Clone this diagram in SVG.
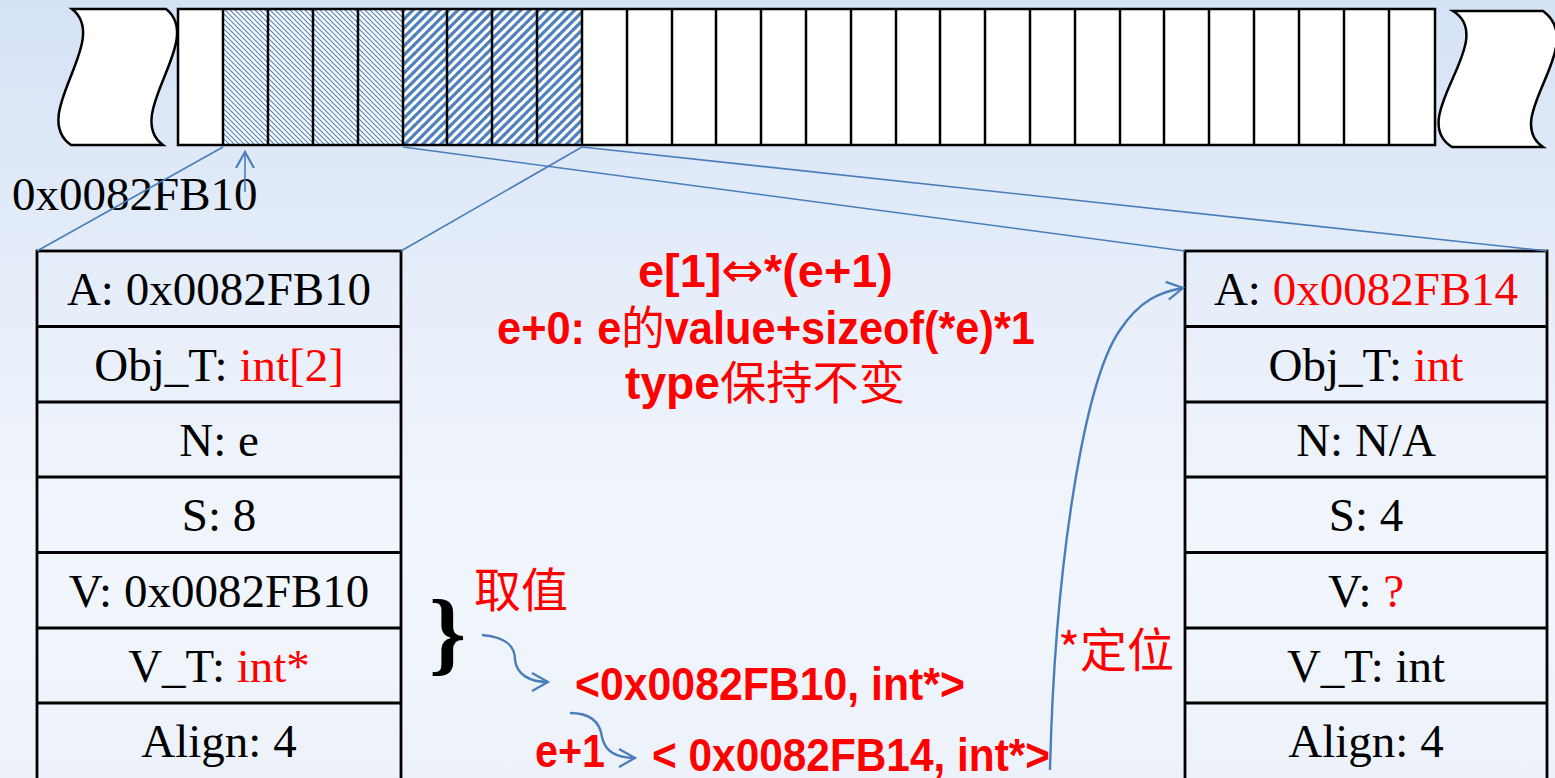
<svg xmlns="http://www.w3.org/2000/svg" width="1555" height="778" viewBox="0 0 1555 778">
<defs>
<linearGradient id="bg" x1="0" y1="0" x2="0" y2="1">
<stop offset="0" stop-color="#d5e2f5"/>
<stop offset="0.35" stop-color="#e5edf9"/>
<stop offset="0.7" stop-color="#f2f6fc"/>
<stop offset="1" stop-color="#edf2fa"/>
</linearGradient>
<pattern id="hatchA" width="5" height="5" patternUnits="userSpaceOnUse">
<rect width="5" height="5" fill="#fff"/>
<path d="M0,0 L5,5 M4,-1 L6,1 M-1,4 L1,6" stroke="#4f81bd" stroke-width="1.1"/>
</pattern>
<pattern id="hatchB" width="9" height="9" patternUnits="userSpaceOnUse">
<rect width="9" height="9" fill="#fff"/>
<path d="M-1,10 L10,-1 M-1,1 L1,-1 M8,10 L10,8" stroke="#4f81bd" stroke-width="3.2"/>
</pattern>
<marker id="chev" markerUnits="userSpaceOnUse" markerWidth="24" markerHeight="24" refX="16" refY="9" orient="auto" overflow="visible">
<path d="M0,0 L16,9 L0,18" fill="none" stroke="#4a7ebb" stroke-width="2.2"/>
</marker>
</defs>
<style>
.cell{stroke:#000;stroke-width:2.5}
.box{fill:none;stroke:#000;stroke-width:2.8}
.div{stroke:#000;stroke-width:2.8}
.tm{font-family:"Liberation Serif","Times New Roman",serif;font-size:47px;fill:#000;text-anchor:middle}
.red{fill:#ff0000}
.bold{font-family:"Liberation Sans",Arial,"Noto Sans CJK SC",sans-serif;font-weight:bold;font-size:46px;fill:#ff0000}
.cjk{font-family:"Noto Sans CJK SC",sans-serif;font-weight:normal}
.arr{font-family:"DejaVu Sans",sans-serif;font-weight:normal;font-size:50px}
.cn{font-family:"Noto Sans CJK SC",sans-serif;font-size:47px;fill:#ff0000}
.conn{fill:none;stroke:#4a7ebb;stroke-width:1.6}
.curve{fill:none;stroke:#4a7ebb;stroke-width:2.4}
.wave{fill:#fff;stroke:#000;stroke-width:2.5}
</style>
<rect width="1555" height="778" fill="url(#bg)"/>

<g id="memory">
<path class="wave" d="M72,9 L166,9 C206,40 122,115 163,145 L71,145 C28,115 112,40 72,9 Z"/>
<path class="wave" d="M1453,11 L1543,11 C1590,45 1500,118 1543,147 L1452,147 C1405,118 1500,40 1453,11 Z"/>
<rect x="178" y="9" width="1257" height="136" fill="#fff"/>
<rect x="223" y="9" width="180" height="136" fill="url(#hatchA)"/>
<rect x="403" y="9" width="179" height="136" fill="url(#hatchB)"/>
<g class="cell">
<line x1="223" y1="9" x2="223" y2="145"/><line x1="268" y1="9" x2="268" y2="145"/><line x1="313" y1="9" x2="313" y2="145"/><line x1="358" y1="9" x2="358" y2="145"/><line x1="403" y1="9" x2="403" y2="145"/><line x1="447" y1="9" x2="447" y2="145"/><line x1="492" y1="9" x2="492" y2="145"/><line x1="537" y1="9" x2="537" y2="145"/><line x1="582" y1="9" x2="582" y2="145"/><line x1="627" y1="9" x2="627" y2="145"/><line x1="672" y1="9" x2="672" y2="145"/><line x1="716" y1="9" x2="716" y2="145"/><line x1="761" y1="9" x2="761" y2="145"/><line x1="806" y1="9" x2="806" y2="145"/><line x1="851" y1="9" x2="851" y2="145"/><line x1="896" y1="9" x2="896" y2="145"/><line x1="940" y1="9" x2="940" y2="145"/><line x1="985" y1="9" x2="985" y2="145"/><line x1="1030" y1="9" x2="1030" y2="145"/><line x1="1075" y1="9" x2="1075" y2="145"/><line x1="1120" y1="9" x2="1120" y2="145"/><line x1="1164" y1="9" x2="1164" y2="145"/><line x1="1209" y1="9" x2="1209" y2="145"/><line x1="1254" y1="9" x2="1254" y2="145"/><line x1="1299" y1="9" x2="1299" y2="145"/><line x1="1344" y1="9" x2="1344" y2="145"/><line x1="1389" y1="9" x2="1389" y2="145"/>
<rect x="178" y="9" width="1257" height="136" fill="none"/>
</g>
</g>

<g id="addr-label">
<text x="12" y="210" font-family="Liberation Serif, Times New Roman, serif" font-size="47" fill="#000">0x0082FB10</text>
</g>

<g id="obj-e">
<rect class="box" x="37" y="251" width="364" height="530"/>
<line class="div" x1="37" y1="326.5" x2="401" y2="326.5"/>
<line class="div" x1="37" y1="402" x2="401" y2="402"/>
<line class="div" x1="37" y1="477" x2="401" y2="477"/>
<line class="div" x1="37" y1="552.5" x2="401" y2="552.5"/>
<line class="div" x1="37" y1="628" x2="401" y2="628"/>
<line class="div" x1="37" y1="703" x2="401" y2="703"/>
<text class="tm" x="219" y="305">A: 0x0082FB10</text>
<text class="tm" x="219" y="381">Obj_T: <tspan class="red">int[2]</tspan></text>
<text class="tm" x="219" y="456">N: e</text>
<text class="tm" x="219" y="531">S: 8</text>
<text class="tm" x="219" y="607">V: 0x0082FB10</text>
<text class="tm" x="219" y="682">V_T: <tspan class="red">int*</tspan></text>
<text class="tm" x="219" y="757">Align: 4</text>
</g>

<g id="obj-e1">
<rect class="box" x="1185" y="251" width="362" height="530"/>
<line class="div" x1="1185" y1="326.5" x2="1547" y2="326.5"/>
<line class="div" x1="1185" y1="402" x2="1547" y2="402"/>
<line class="div" x1="1185" y1="477" x2="1547" y2="477"/>
<line class="div" x1="1185" y1="552.5" x2="1547" y2="552.5"/>
<line class="div" x1="1185" y1="628" x2="1547" y2="628"/>
<line class="div" x1="1185" y1="703" x2="1547" y2="703"/>
<text class="tm" x="1366" y="305">A: <tspan class="red">0x0082FB14</tspan></text>
<text class="tm" x="1366" y="381">Obj_T: <tspan class="red">int</tspan></text>
<text class="tm" x="1366" y="456">N: N/A</text>
<text class="tm" x="1366" y="531">S: 4</text>
<text class="tm" x="1366" y="607">V: <tspan class="red">?</tspan></text>
<text class="tm" x="1366" y="682">V_T: int</text>
<text class="tm" x="1366" y="757">Align: 4</text>
</g>

<g id="note">
<text class="bold" x="638" y="287" textLength="255" lengthAdjust="spacingAndGlyphs">e[1]<tspan class="arr">⇔</tspan>*(e+1)</text>
<text class="bold" x="497" y="344" textLength="538" lengthAdjust="spacingAndGlyphs">e+0: e<tspan class="cjk">的</tspan>value+sizeof(*e)*1</text>
<text class="bold" x="625" y="399" textLength="280" lengthAdjust="spacingAndGlyphs">type<tspan class="cjk">保持不变</tspan></text>
</g>

<g id="brace">
<text x="429" y="664" font-family="Liberation Serif, Times New Roman, serif" font-size="94" font-weight="bold" fill="#000">}</text>
</g>
<g id="fetch-label"><text class="cn" x="474" y="607">取值</text></g>
<g id="locate-label"><text class="cn" x="1058" y="667">*定位</text></g>
<g id="value1"><text class="bold" x="575" y="700" textLength="390" lengthAdjust="spacingAndGlyphs">&lt;0x0082FB10, int*&gt;</text></g>
<g id="eplus1"><text class="bold" x="535" y="767" textLength="70" lengthAdjust="spacingAndGlyphs">e+1</text></g>
<g id="value2"><text class="bold" x="652" y="771" textLength="398" lengthAdjust="spacingAndGlyphs">&lt; 0x0082FB14, int*&gt;</text></g>

<g id="connectors">
<line class="conn" x1="223" y1="147" x2="37" y2="251"/>
<line class="conn" x1="582" y1="147" x2="401" y2="251"/>
<line class="conn" x1="403" y1="147" x2="1185" y2="251"/>
<line class="conn" x1="582" y1="147" x2="1547" y2="251"/>
<line class="conn" x1="245" y1="192" x2="245" y2="152" marker-end="url(#chev)"/>
<path class="curve" d="M482,635 C505,637 515,645 515,660 C517,675 530,682 548,682" marker-end="url(#chev)"/>
<path class="curve" d="M570,713 C590,713 600,722 602,737 C605,752 618,758 635,758" marker-end="url(#chev)"/>
<path class="curve" d="M1050,770 C1055,560 1085,380 1120,330 C1140,300 1160,292 1183,288" marker-end="url(#chev)"/>
</g>
</svg>
